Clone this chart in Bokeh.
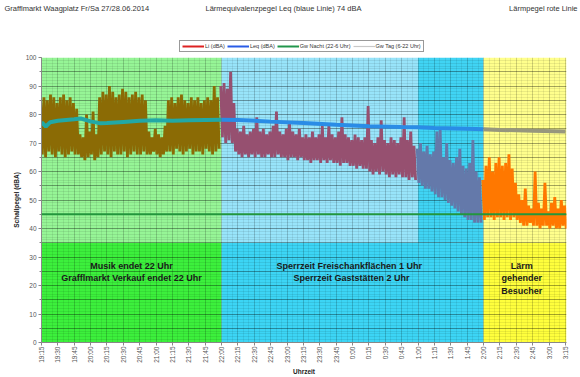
import numpy as np
from bokeh.plotting import figure
from bokeh.layouts import column
from bokeh.models import FixedTicker, Label, Legend, LegendItem, Range1d, Span
from bokeh.embed import file_html
from bokeh.resources import INLINE

FONT = "Liberation Sans"

title_left = "Grafflmarkt Waagplatz Fr/Sa 27/28.06.2014"
title_mid = "Lärmequivalenzpegel Leq  (blaue Linie) 74 dBA"
title_right = "Lärmpegel rote Linie"

# x axis: minutes since 19:15
x_ticks = list(range(0, 481, 15))
x_tick_labels = ["19:15", "19:30", "19:45", "20:00", "20:15", "20:30", "20:45",
                 "21:00", "21:15", "21:30", "21:45", "22:00", "22:15", "22:30",
                 "22:45", "23:00", "23:15", "23:30", "23:45", "0:00", "0:15",
                 "0:30", "0:45", "1:00", "1:15", "1:30", "1:45", "2:00", "2:15",
                 "2:30", "2:45", "3:00", "3:15"]

# phases (minutes since 19:15)
phase_start = [0, 165, 345, 405]
phase_end = [165, 345, 405, 481]
band_split = 35
band_top_colors = ["#96F596", "#98E4FA", "#40D4F4", "#FFFF8C"]
band_low_colors = ["#3CF03C", "#3CD5F5", "#3CD5F5", "#FFFF3C"]
li_colors = ["#8B6B05", "#965070", "#6479AA", "#FF7800"]
leq_colors = ["#22A8A5", "#2A8CE6", "#2A8CE6", "#97977D"]

# Li (dBA): max / min per 3-minute interval
li_time = list(range(0, 481, 3))
li_max = [84, 86, 85, 87, 86, 84, 86, 87, 85, 86, 84, 82,
          73, 72, 80, 74, 81, 73,
          86, 88, 87, 90, 88, 86, 87, 89, 88, 86, 87, 88, 86, 87, 85,
          74, 72, 75, 73, 72, 76,
          85, 86, 84, 86, 87, 85, 84, 86, 85, 86, 84, 85, 86, 85, 90, 86,
          90, 91, 89, 95, 84,
          75, 74, 76, 73, 74, 75, 79, 74, 75, 73, 74, 76, 81, 74, 73, 75, 77, 74, 73, 75,
          72, 73, 72, 74, 72, 73, 76, 72, 76, 73, 72, 74, 79, 73, 72, 71, 73, 72, 71, 72,
          83, 71, 70, 72, 78, 71, 70, 72, 71, 70, 72, 79, 71, 74, 69,
          68, 70, 67, 69, 66, 67, 74, 75, 65, 70, 64, 63, 65, 68, 62, 61, 63, 71, 60, 58,
          57, 62, 65, 60, 63, 65, 62, 63, 66, 61, 56,
          52, 50, 54, 48, 47, 60, 49, 47, 56, 46, 49, 51, 47, 50, 48]
li_min = [66, 65, 67, 66, 65, 67, 66, 65, 66, 67, 66, 66,
          65, 64, 65, 66, 64, 65,
          66, 67, 66, 65, 67, 66, 66, 67, 65, 66, 67, 66, 66, 67, 66,
          66, 67, 66, 65, 66, 67,
          67, 66, 68, 67, 66, 67, 68, 66, 67, 67, 66, 68, 67, 66, 67, 68,
          72, 70, 71, 70, 67,
          66, 65, 66, 65, 66, 65, 66, 65, 65, 66, 65, 65, 66, 65, 65, 64, 65, 65, 64, 65,
          64, 64, 63, 64, 64, 63, 64, 63, 64, 63, 63, 62, 63, 63, 62, 62, 61, 62, 61, 61,
          60, 59, 60, 59, 60, 59, 58, 59, 58, 59, 58, 58, 57, 58, 57,
          56, 55, 54, 54, 53, 52, 51, 51, 50, 49, 48, 47, 46, 45, 44, 43, 43, 42, 42, 42,
          43, 44, 44, 43, 44, 44, 43, 44, 43, 44, 43,
          42, 41, 41, 42, 41, 41, 40, 41, 41, 40, 41, 40, 40, 41, 40]

# Leq (dBA)
leq_time = [0, 4, 8, 15, 30, 36, 45, 54, 60, 75, 90, 105, 120, 135, 150, 165,
            180, 210, 240, 270, 300, 330, 345, 360, 390, 405, 420, 450, 480]
leq_value = [77.3, 75.8, 77.3, 77.8, 78.3, 78.6, 77.6, 76.9, 77.0, 77.4, 77.8, 78.0,
             77.8, 78.0, 78.1, 78.2, 78.1, 77.5, 77.0, 76.4, 75.9, 75.6, 75.5, 75.3,
             75.0, 74.8, 74.6, 74.3, 74.0]

gw_nacht = 45

notes = [
    ("Musik endet 22 Uhr", 82.5, 27.0),
    ("Grafflmarkt Verkauf endet 22 Uhr", 82.5, 22.7),
    ("Sperrzeit Freischankflächen 1 Uhr", 282, 27.0),
    ("Sperrzeit Gaststätten 2 Uhr", 284, 22.7),
    ("Lärm", 440, 27.0),
    ("gehender", 440, 22.7),
    ("Besucher", 440, 18.2),
]

# ---------------- header (titles + legend) ----------------
HEAD_H = 54
head = figure(width=580, height=HEAD_H, x_range=Range1d(0, 580), y_range=Range1d(HEAD_H, 0),
              output_backend="svg", toolbar_location=None, x_axis_type=None, y_axis_type=None,
              min_border=0, outline_line_color=None, background_fill_color="white",
              border_fill_color="white", frame_align=False)
head.grid.visible = False
for txt, hx, align in [(title_left, 4, "left"), (title_mid, 205, "left"), (title_right, 577, "right")]:
    head.add_layout(Label(x=hx, y=8, text=txt, text_font=FONT, text_font_size="7.5px",
                          text_color="#333333", text_baseline="middle", text_align=align))

# legend proxies (kept outside the header's visible range)
proxy_x = [-20, -10]
proxy_y = [-20, -20]
r_li = head.line(x=proxy_x, y=proxy_y, line_color="#DD2222", line_width=2)
r_leq = head.line(x=proxy_x, y=proxy_y, line_color="#2A5CE6", line_width=2)
r_gn = head.line(x=proxy_x, y=proxy_y, line_color="#22964C", line_width=2)
r_gt = head.line(x=proxy_x, y=proxy_y, line_color="#C8C8C8", line_width=1.2)
legend = Legend(items=[LegendItem(label="Li (dBA)", renderers=[r_li]),
                       LegendItem(label="Leq (dBA)", renderers=[r_leq]),
                       LegendItem(label="Gw Nacht (22-6 Uhr)", renderers=[r_gn]),
                       LegendItem(label="Gw Tag (6-22 Uhr)", renderers=[r_gt])],
                location=(179, 2), orientation="horizontal",
                label_text_font=FONT, label_text_font_size="5.5px",
                label_text_color="#333333",
                glyph_width=22, glyph_height=6, label_height=6, label_standoff=1,
                spacing=2, padding=2, margin=0,
                border_line_color="#333333", border_line_width=1,
                background_fill_color="white", background_fill_alpha=1)
head.add_layout(legend)

# ---------------- main chart ----------------
p = figure(width=580, height=377 - HEAD_H, x_range=Range1d(0, 481), y_range=Range1d(0, 100),
           output_backend="svg", toolbar_location=None,
           min_border_left=41, min_border_right=14, min_border_top=3, min_border_bottom=34,
           background_fill_color="white", border_fill_color="white",
           outline_line_color=None, frame_align=False)

# background bands
p.quad(left=phase_start, right=phase_end, bottom=[band_split] * 4, top=[100] * 4,
       fill_color=band_top_colors, line_color=None, level="image")
p.quad(left=phase_start, right=phase_end, bottom=[0] * 4, top=[band_split] * 4,
       fill_color=band_low_colors, line_color=None, level="image")

# Li: zig-zag between max and min of each interval, coloured per phase
t = np.array(li_time, dtype=float)
hi = np.array(li_max, dtype=float)
lo = np.array(li_min, dtype=float)
for s, e, c in zip(phase_start, phase_end, li_colors):
    m = (t >= s) & (t < e) if e < 481 else (t >= s)
    xs = np.column_stack([t[m] - 0.75, t[m] + 0.75]).ravel()
    ys = np.column_stack([hi[m], lo[m]]).ravel()
    p.line(xs, ys, line_color=c, line_width=2.8)

# Leq line per phase
lt = np.array(leq_time)
lv = np.array(leq_value)
for s, e, c in zip(phase_start, phase_end, leq_colors):
    m = (lt >= s) & (lt <= e)
    p.line(lt[m], lv[m], line_color=c, line_width=4)

p.add_layout(Span(location=gw_nacht, dimension="width", line_color="#22963C",
                  line_width=2))

# grid
p.ygrid.ticker = FixedTicker(ticks=list(range(0, 101, 5)), minor_ticks=list(range(0, 101)))
p.ygrid.grid_line_color = "black"
p.ygrid.grid_line_alpha = 0.3
p.ygrid.minor_grid_line_color = "black"
p.ygrid.minor_grid_line_alpha = 0.08
p.xgrid.ticker = FixedTicker(ticks=x_ticks, minor_ticks=list(range(0, 481, 5)))
p.xgrid.grid_line_color = "black"
p.xgrid.grid_line_alpha = 0.12
p.xgrid.minor_grid_line_color = "black"
p.xgrid.minor_grid_line_alpha = 0.07

# axes
p.xaxis.ticker = FixedTicker(ticks=x_ticks)
p.xaxis.major_label_overrides = dict(zip(x_ticks, x_tick_labels))
p.xaxis.major_label_orientation = np.pi / 2
p.xaxis.major_label_text_font = FONT
p.xaxis.major_label_text_font_size = "6.5px"
p.xaxis.major_label_text_color = "#555555"
p.xaxis.major_label_standoff = 1
p.xaxis.major_tick_out = 3
p.xaxis.major_tick_in = 0
p.xaxis.axis_line_color = "#888888"
p.xaxis.major_tick_line_color = "#888888"
p.xaxis.axis_label = "Uhrzeit"
p.xaxis.axis_label_text_font = FONT
p.xaxis.axis_label_text_font_size = "6.5px"
p.xaxis.axis_label_text_font_style = "bold"
p.xaxis.axis_label_text_color = "#222222"
p.xaxis.axis_label_standoff = 2

p.yaxis.ticker = FixedTicker(ticks=list(range(0, 101, 10)), minor_ticks=list(range(0, 101, 5)))
p.yaxis.axis_label = "Schallpegel (dBA)"
p.yaxis.axis_label_text_font = FONT
p.yaxis.axis_label_text_font_size = "6.5px"
p.yaxis.axis_label_text_font_style = "bold"
p.yaxis.axis_label_text_color = "#222222"
p.yaxis.axis_label_standoff = 3
p.yaxis.major_label_text_font = FONT
p.yaxis.major_label_text_font_size = "6.5px"
p.yaxis.major_label_text_color = "#555555"
p.yaxis.major_label_standoff = 2
p.yaxis.major_tick_out = 3
p.yaxis.major_tick_in = 0
p.yaxis.minor_tick_out = 2
p.yaxis.minor_tick_in = 0
p.yaxis.axis_line_color = "#888888"
p.yaxis.major_tick_line_color = "#888888"
p.yaxis.minor_tick_line_color = "#888888"

for txt, nx, ny in notes:
    p.add_layout(Label(x=nx, y=ny, text=txt, text_font=FONT, text_font_size="9px",
                       text_font_style="bold", text_color="#1A1A1A",
                       text_baseline="middle", text_align="center"))

layout = column(head, p, spacing=0)
open("out.html", "w").write(file_html(layout, INLINE))
